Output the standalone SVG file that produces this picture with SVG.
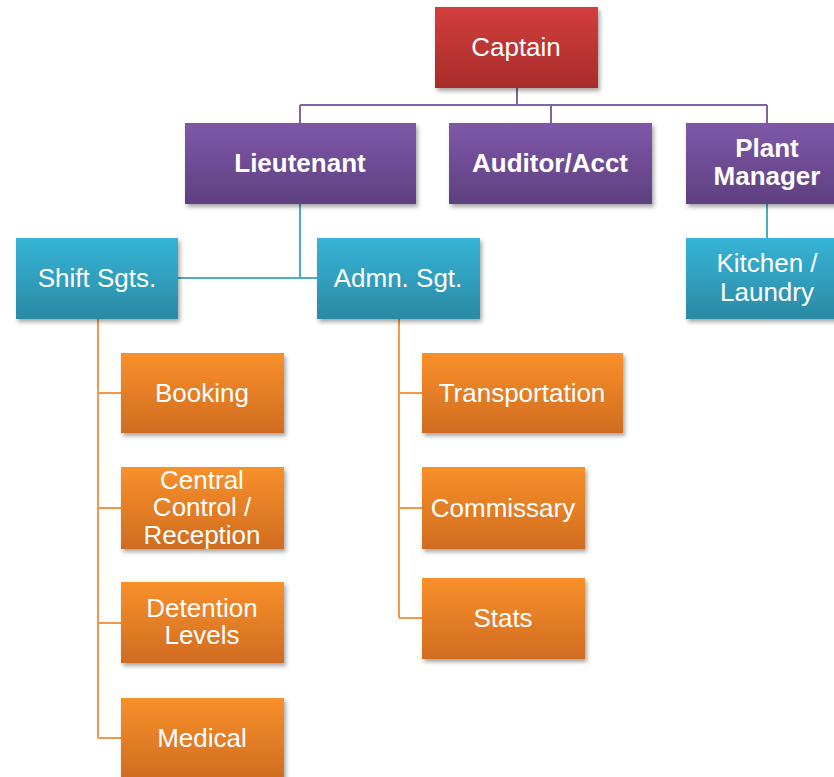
<svg xmlns="http://www.w3.org/2000/svg" width="834" height="777" viewBox="0 0 834 777">
  <defs>
    <linearGradient id="gRed" x1="0" y1="0" x2="0" y2="1">
      <stop offset="0" stop-color="#D33E3C"/>
      <stop offset="1" stop-color="#A72C2A"/>
    </linearGradient>
    <linearGradient id="gPurple" x1="0" y1="0" x2="0" y2="1">
      <stop offset="0" stop-color="#7F58A8"/>
      <stop offset="1" stop-color="#5E3F80"/>
    </linearGradient>
    <linearGradient id="gTeal" x1="0" y1="0" x2="0" y2="1">
      <stop offset="0" stop-color="#37B4D7"/>
      <stop offset="1" stop-color="#2A8AA4"/>
    </linearGradient>
    <linearGradient id="gOrange" x1="0" y1="0" x2="0" y2="1">
      <stop offset="0" stop-color="#F9902C"/>
      <stop offset="1" stop-color="#D06C20"/>
    </linearGradient>
    <filter id="shadow" x="-10%" y="-10%" width="125%" height="130%">
      <feDropShadow dx="2" dy="3" stdDeviation="2" flood-color="#000" flood-opacity="0.35"/>
    </filter>
  </defs>
  <style>
    .box { filter: url(#shadow); }
    .red { fill: url(#gRed); }
    .purple { fill: url(#gPurple); }
    .teal { fill: url(#gTeal); }
    .orange { fill: url(#gOrange); }
    text { font-family: "Liberation Sans", Arial, sans-serif; font-size: 26px; fill: #FFFFFF; text-anchor: middle; }
    .bold { font-weight: bold; }
    .lp { stroke: #8064A2; stroke-width: 2; fill: none; }
    .lt { stroke: #4BACC6; stroke-width: 2; fill: none; }
    .lo { stroke: #F79646; stroke-width: 2; fill: none; }
  </style>

  <rect width="834" height="777" fill="#FFFFFF"/>

  <g id="connectors">
    <!-- Captain to second tier -->
    <path class="lp" d="M517 88 V105 M300 105 H767 M300 105 V123 M551 105 V123 M767 105 V123"/>
    <!-- Lieutenant to sergeants -->
    <path class="lt" d="M300 204 V278 M178 278 H317"/>
    <!-- Plant Manager to Kitchen / Laundry -->
    <path class="lt" d="M767 204 V238"/>
    <!-- Shift Sgts branches -->
    <path class="lo" d="M98 319 V738 M98 393 H121 M98 508 H121 M98 623 H121 M98 738 H121"/>
    <!-- Admn. Sgt branches -->
    <path class="lo" d="M399 319 V618 M399 393 H422 M399 508 H422 M399 618 H422"/>
  </g>

  <g id="captain">
    <rect class="box red" x="435" y="7" width="163" height="81"/>
    <text x="516" y="56">Captain</text>
  </g>

  <g id="lieutenant">
    <rect class="box purple" x="185" y="123" width="231" height="81"/>
    <text class="bold" x="300" y="172">Lieutenant</text>
  </g>

  <g id="auditor">
    <rect class="box purple" x="449" y="123" width="203" height="81"/>
    <text class="bold" x="550" y="172">Auditor/Acct</text>
  </g>

  <g id="plant-manager">
    <rect class="box purple" x="686" y="123" width="163" height="81"/>
    <text class="bold" x="767" y="157">Plant</text>
    <text class="bold" x="767" y="185">Manager</text>
  </g>

  <g id="shift-sgts">
    <rect class="box teal" x="16" y="238" width="162" height="81"/>
    <text x="97" y="287">Shift Sgts.</text>
  </g>

  <g id="admn-sgt">
    <rect class="box teal" x="317" y="238" width="163" height="81"/>
    <text x="398" y="287">Admn. Sgt.</text>
  </g>

  <g id="kitchen-laundry">
    <rect class="box teal" x="686" y="238" width="163" height="81"/>
    <text x="767" y="272">Kitchen /</text>
    <text x="767" y="301">Laundry</text>
  </g>

  <g id="booking">
    <rect class="box orange" x="121" y="353" width="163" height="80"/>
    <text x="202" y="402">Booking</text>
  </g>

  <g id="central-control">
    <rect class="box orange" x="121" y="467" width="163" height="82"/>
    <text x="202" y="489">Central</text>
    <text x="202" y="516">Control /</text>
    <text x="202" y="544">Reception</text>
  </g>

  <g id="detention-levels">
    <rect class="box orange" x="121" y="582" width="163" height="81"/>
    <text x="202" y="617">Detention</text>
    <text x="202" y="644">Levels</text>
  </g>

  <g id="medical">
    <rect class="box orange" x="121" y="698" width="163" height="81"/>
    <text x="202" y="747">Medical</text>
  </g>

  <g id="transportation">
    <rect class="box orange" x="422" y="353" width="201" height="80"/>
    <text x="522" y="402">Transportation</text>
  </g>

  <g id="commissary">
    <rect class="box orange" x="422" y="467" width="163" height="82"/>
    <text x="503" y="517">Commissary</text>
  </g>

  <g id="stats">
    <rect class="box orange" x="422" y="578" width="163" height="81"/>
    <text x="503" y="627">Stats</text>
  </g>
</svg>
